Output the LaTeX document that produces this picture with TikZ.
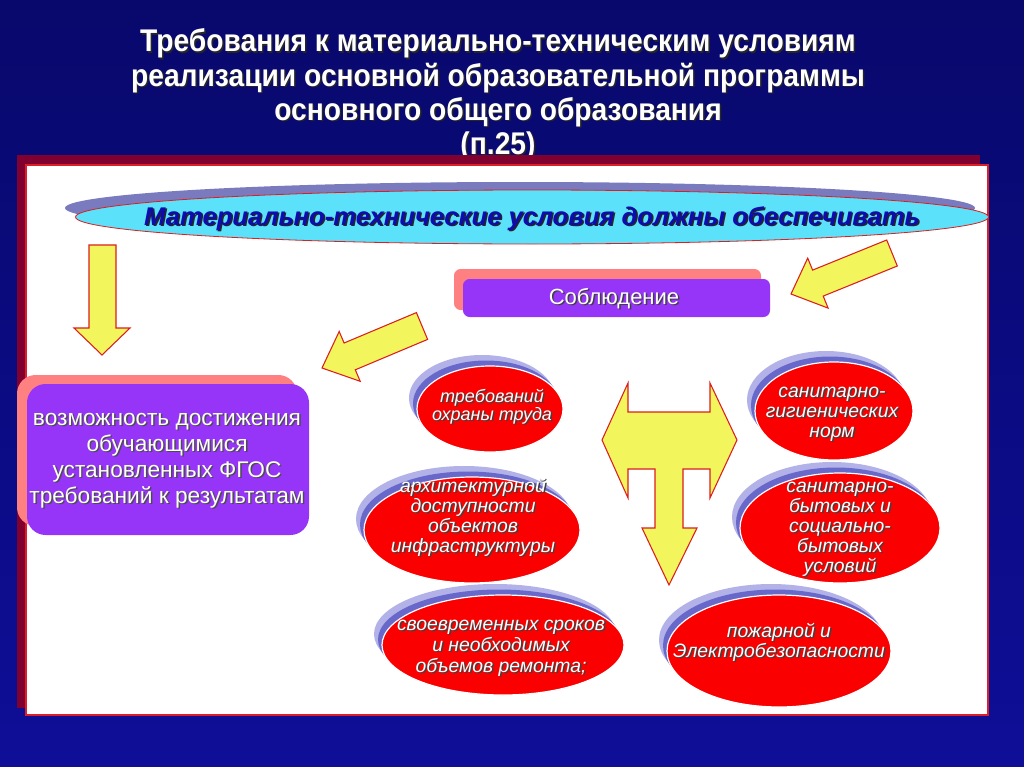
\documentclass[tikz,border=0pt]{standalone}
\usepackage{fontspec}
\setmainfont{Liberation Sans}
\newfontfamily\titlefont[FakeStretch=0.9]{Liberation Sans}
\usetikzlibrary{shapes.geometric}
\definecolor{bgtop}{RGB}{8,8,108}
\definecolor{bgbot}{RGB}{14,14,152}
\definecolor{panelshadow}{RGB}{128,0,48}
\definecolor{panelborder}{RGB}{220,30,40}
\definecolor{bannercyan}{RGB}{92,225,250}
\definecolor{bannershadow}{RGB}{122,122,190}
\definecolor{bannertext}{RGB}{12,12,175}
\definecolor{arrowyellow}{RGB}{242,246,92}
\definecolor{arrowred}{RGB}{220,30,30}
\definecolor{boxpurple}{RGB}{150,52,248}
\definecolor{boxpink}{RGB}{255,128,128}
\definecolor{ellred}{RGB}{250,0,0}
\definecolor{shlight}{RGB}{178,178,232}
\definecolor{shdark}{RGB}{104,104,202}
\def\pxu{0.75pt}
\newcommand\redoval[5]{%
  \fill[shlight, shift={(-8,-11)}] (#2,#3) ellipse [x radius={#4*\pxu}, y radius={#5*\pxu}];
  \fill[shdark, shift={(-4,-5.5)}] (#2,#3) ellipse [x radius={#4*\pxu}, y radius={#5*\pxu}];
  \node[ellipse, fill=ellred, draw=white, line width=0.9pt, inner sep=0pt,
        minimum width={2*#4*\pxu}, minimum height={2*#5*\pxu}] (#1) at (#2,#3) {};
}
\newcommand\txtlines[7]{% style, name, x, first baseline, step, shadow colour, lines
  \foreach \t [count=\i] in {#7} {
    \node[#1, anchor=base, text=#6, xshift=1.1pt, yshift=-1.1pt] (#2-s\i) at (#3, {#4+(\i-1)*#5}) {\t};
    \node[#1, anchor=base] (#2-\i) at (#3, {#4+(\i-1)*#5}) {\t};
  }%
}
\tikzset{
  blockarrow/.style={fill=arrowyellow, draw=arrowred, line width=0.8pt, line join=miter},
  titletext/.style={inner sep=0pt, text=white, font=\titlefont\bfseries\fontsize{23.5}{26}\selectfont},
  bannerfont/.style={inner sep=0pt, text=bannertext, font=\bfseries\itshape\fontsize{19.2}{21}\selectfont},
  boxtext/.style={inner sep=0pt, text=white, font=\fontsize{16.5}{18}\selectfont},
  goaltext/.style={inner sep=0pt, text=white, font=\fontsize{17}{19}\selectfont},
  elltext/.style={inner sep=0pt, text=white, font=\itshape\fontsize{14.5}{16}\selectfont},
  elltextsmall/.style={inner sep=0pt, text=white, font=\itshape\fontsize{13.5}{16}\selectfont},
}
\begin{document}
\begin{tikzpicture}[x=0.75pt,y=-0.75pt]
\useasboundingbox (0,0) rectangle (1024,767);
\shade[top color=bgtop, bottom color=bgbot] (0,0) rectangle (1024,767);

% title
\txtlines{titletext}{title}{498}{52}{34}{black!85}{Требования к материально-техническим условиям, реализации основной образовательной программы, основного общего образования, {(п.25)}}

% panel
\fill[panelshadow] (17,155) rectangle (980,708);
\draw[fill=white, draw=panelborder, line width=0.8pt] (26,165) rectangle (988,715);

% banner
\fill[bannershadow] (520,208) ellipse [x radius={455*\pxu}, y radius={26*\pxu}];
\node[ellipse, fill=bannercyan, draw=arrowred, line width=0.6pt, inner sep=0pt,
      minimum width={913*\pxu}, minimum height={54*\pxu}] (banner) at (532,217) {};
\txtlines{bannerfont}{bannertxt}{532}{225}{0}{black!85}{Материально-технические условия должны обеспечивать}

% Соблюдение box
\fill[boxpink, rounded corners=5pt] (454,269) rectangle (761,310);
\node[fill=boxpurple, rounded corners=5pt, inner sep=0pt,
      minimum width={307*\pxu}, minimum height={38*\pxu}] (sobl) at (616.5,298) {};
\txtlines{boxtext}{sobltxt}{614}{304}{0}{black!75}{Соблюдение}

% goal box
\fill[boxpink, rounded corners=14pt] (17,375) rectangle (297,526);
\node[fill=boxpurple, rounded corners=14pt, inner sep=0pt,
      minimum width={282*\pxu}, minimum height={151*\pxu}] (goal) at (168,459.5) {};
\txtlines{goaltext}{goaltxt}{167}{425}{26}{black!70}{возможность достижения, обучающимися, установленных ФГОС, требований к результатам}

% block arrows
\draw[blockarrow] (89,245) -- (116,245) -- (116,328) -- (130,328) -- (102,355) -- (74,328) -- (89,328) -- cycle;
\draw[blockarrow] (416.4,312.6) -- (344.1,343.0) -- (339.2,331.5) -- (322,368) -- (360.2,381.3) -- (355.3,369.8) -- (427.6,339.4) -- cycle;
\draw[blockarrow] (886.7,240.0) -- (812.6,270.1) -- (807.7,258.1) -- (791,294) -- (828.1,308.1) -- (823.2,296.1) -- (897.3,266.0) -- cycle;
\draw[blockarrow] (628,383) -- (628,412) -- (710,412) -- (710,383) -- (737,440) -- (710,498) -- (710,469) -- (683,469) -- (683,528) -- (697,528) -- (669,585) -- (642,528) -- (655,528) -- (655,469) -- (628,469) -- (628,498) -- (602,440) -- cycle;

% ellipses
\redoval{e1}{490}{409}{73}{43}
\redoval{e2}{834}{411}{79}{49}
\redoval{e3}{472}{530}{108}{53}
\redoval{e4}{840}{528}{100}{55}
\redoval{e5}{503}{645}{121}{50}
\redoval{e6}{779}{651}{112}{56}

\txtlines{elltextsmall}{e1txt}{492}{402}{18.5}{black!75}{требований, охраны труда}
\txtlines{elltext}{e2txt}{832}{397}{20}{black!75}{санитарно-, гигиенических, норм}
\txtlines{elltext}{e3txt}{473}{492}{20}{black!75}{архитектурной, доступности, объектов, инфраструктуры}
\txtlines{elltext}{e4txt}{840}{492}{20}{black!75}{санитарно-, бытовых и, социально-, бытовых, условий}
\txtlines{elltext}{e5txt}{501}{630}{21}{black!75}{своевременных сроков, и необходимых, объемов ремонта;}
\txtlines{elltext}{e6txt}{779}{637}{20}{black!75}{пожарной и, Электробезопасности}
\end{tikzpicture}
\end{document}
